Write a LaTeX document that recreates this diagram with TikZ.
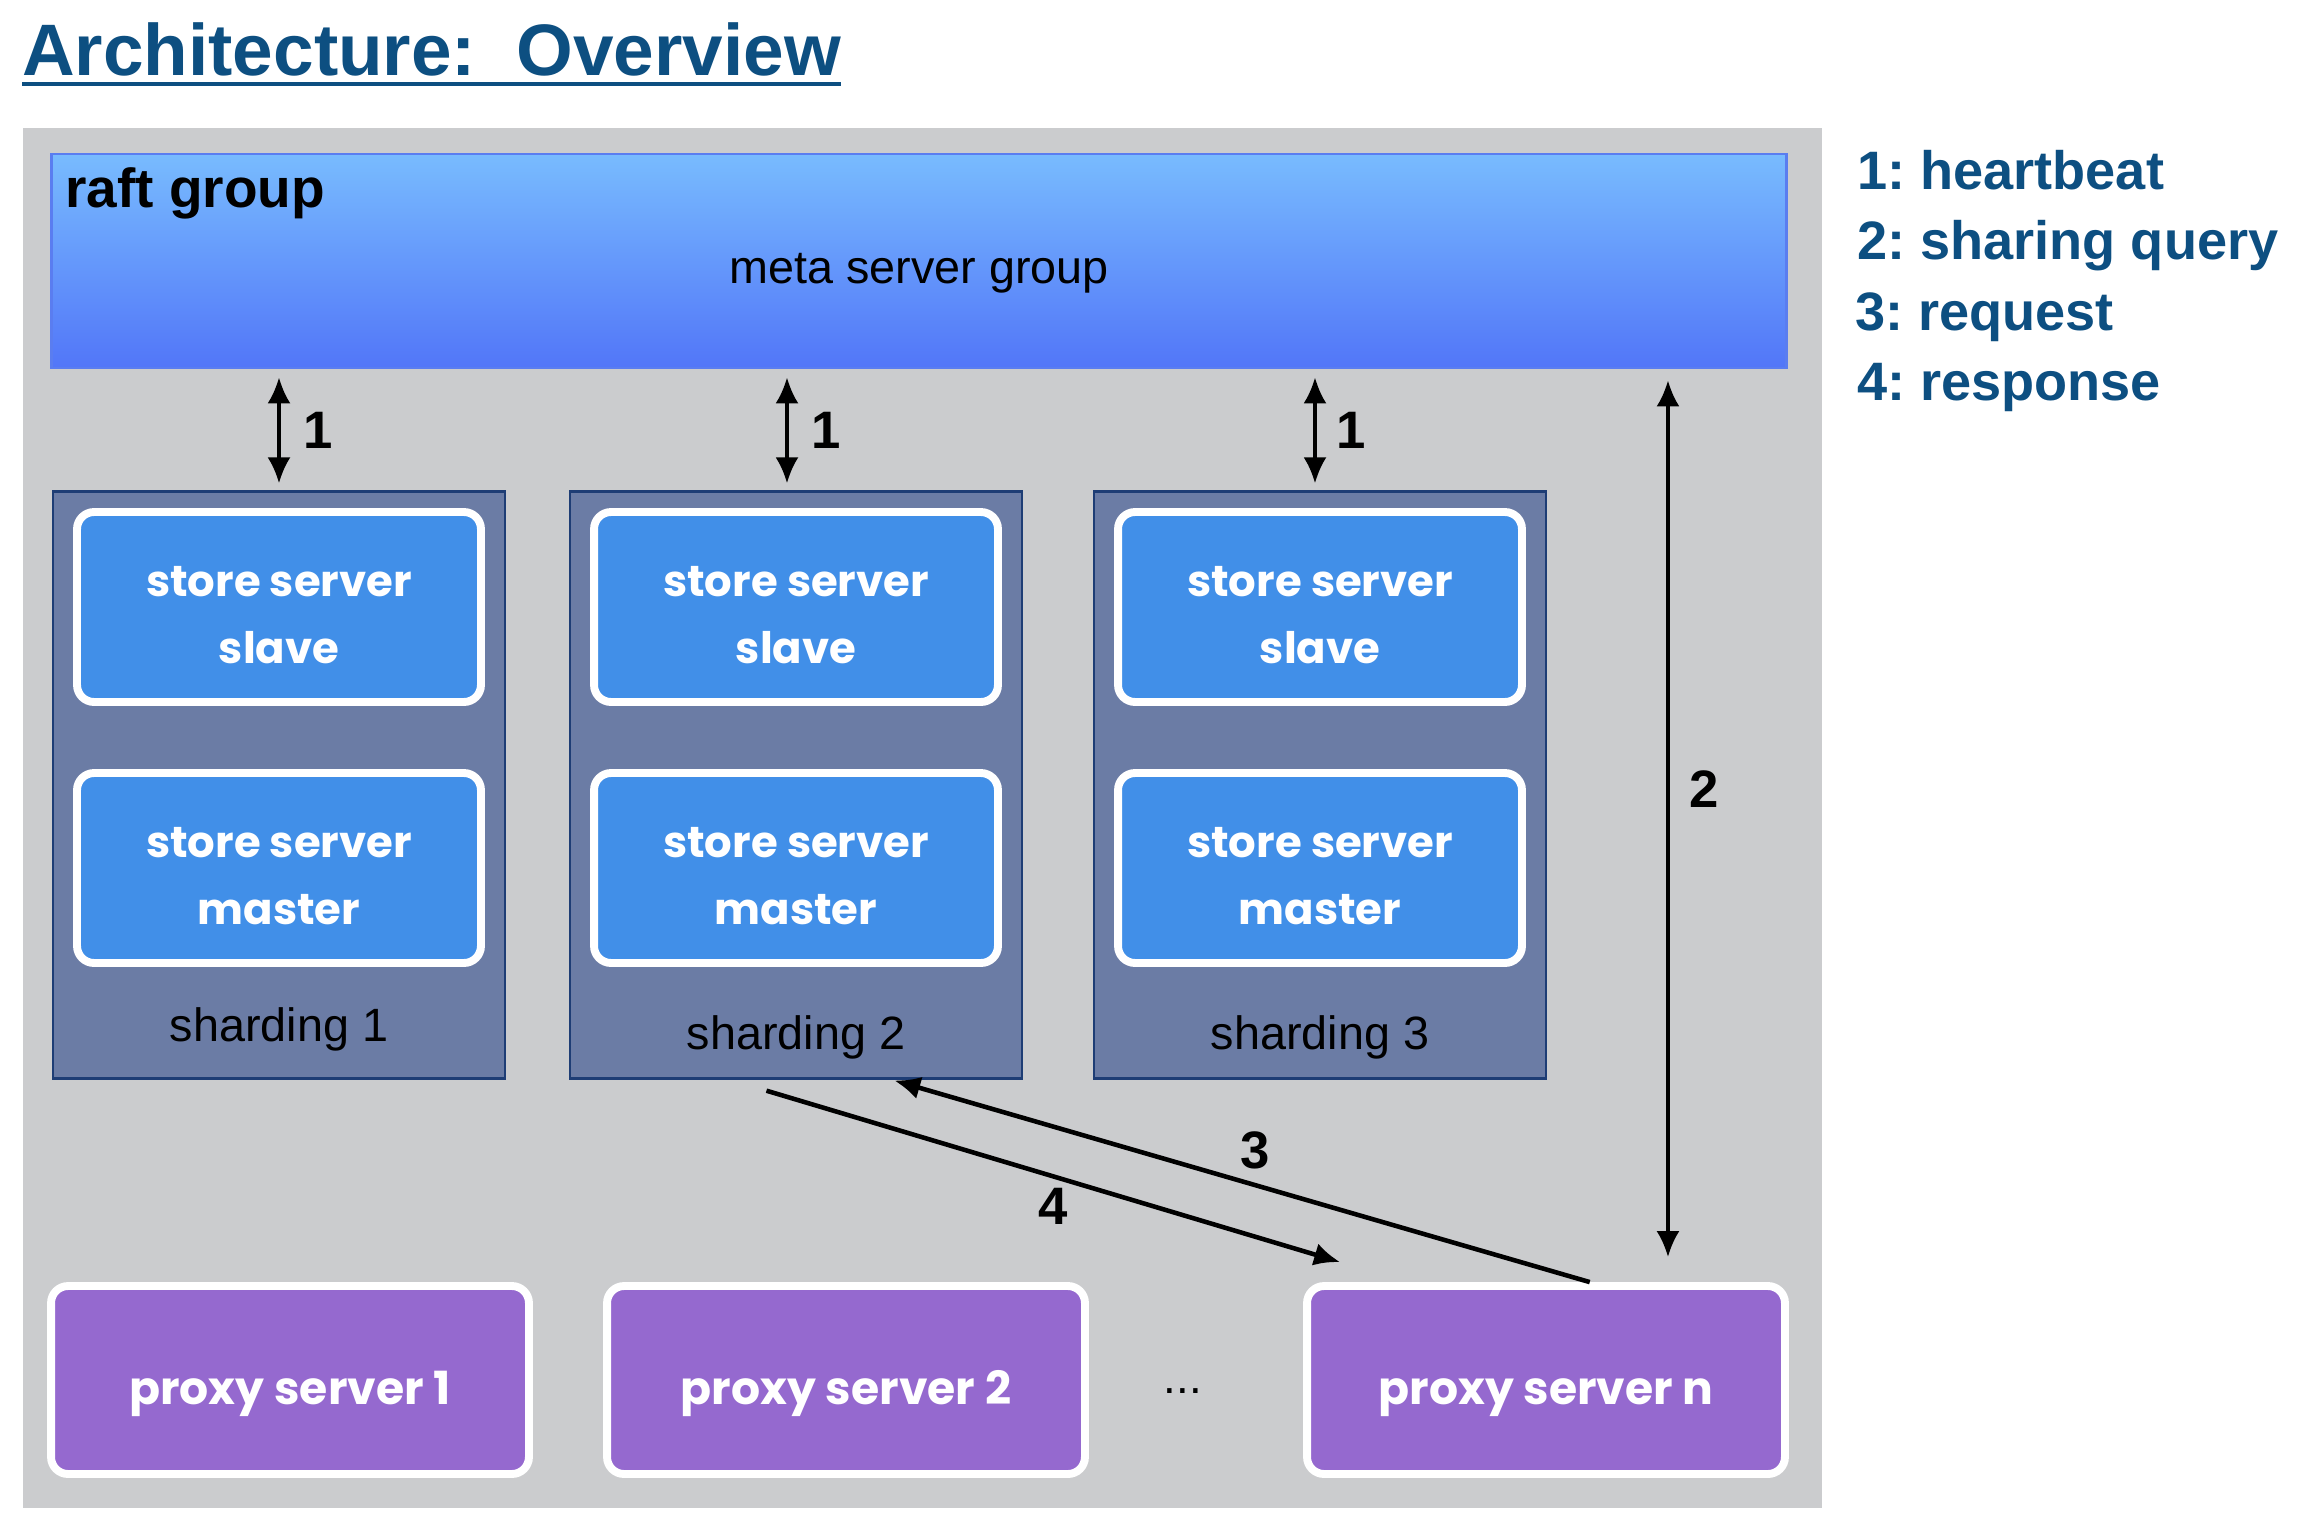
\documentclass[tikz,border=0pt]{standalone}
\usepackage{fontspec}
\setmainfont{Liberation Sans}
\newfontfamily\boxfont{Poppins}
\usetikzlibrary{arrows.meta,calc,positioning}
\definecolor{TitleBlue}{HTML}{0D4F81}
\definecolor{PanelGrey}{HTML}{CBCCCE}
\definecolor{MetaTop}{HTML}{78BBFE}
\definecolor{MetaBottom}{HTML}{5276F8}
\definecolor{MetaLine}{HTML}{5A7DF0}
\definecolor{ShardFill}{HTML}{6B7CA5}
\definecolor{ShardLine}{HTML}{1E3D75}
\definecolor{StoreFill}{HTML}{418FE8}
\definecolor{ProxyFill}{HTML}{9569CF}

\tikzset{
  shard/.style={draw=ShardLine,line width=1.4pt,fill=ShardFill,
    minimum width=9.04cm,minimum height=11.74cm},
  store/.style={draw=white,line width=4.5pt,fill=StoreFill,rounded corners=0.34cm,
    minimum width=8.08cm,minimum height=3.8cm,align=center,text=white,
    text height=64.4pt,text depth=0pt,
    font=\boxfont\bfseries\fontsize{24.7}{38}\selectfont},
  proxy/.style={draw=white,line width=4.5pt,fill=ProxyFill,rounded corners=0.34cm,
    minimum width=9.56cm,minimum height=3.76cm,text=white,
    text height=28.4pt,text depth=0pt,
    font=\boxfont\bfseries\fontsize{26}{30}\selectfont},
  plain/.style={inner sep=0pt,font=\fontsize{26.6}{30}\selectfont},
  num/.style={inner sep=0pt,font=\bfseries\fontsize{30}{32}\selectfont},
  legend/.style={inner sep=0pt,anchor=base west,text=TitleBlue,
    font=\bfseries\fontsize{30.8}{34}\selectfont},
  hb/.style={<->,line width=2pt},
  flow/.style={->,line width=2.6pt}
}

\begin{document}
\frenchspacing
\begin{tikzpicture}[x=0.02cm,y=-0.02cm,>={Latex[length=0.52cm,width=0.46cm]},line cap=butt,line join=miter]

\useasboundingbox (0,0) rectangle (2302,1526);

% Title
\node[inner sep=0pt,anchor=base west,text=TitleBlue,font=\bfseries\fontsize{41.5}{44}\selectfont]
  (title) at (22,75) {Architecture:\ \ Overview};
\draw[TitleBlue,line width=2.2pt] ([yshift=-0.18cm]title.base west) -- ([yshift=-0.18cm]title.base east);

% Grey panel
\fill[PanelGrey] (23,128) rectangle (1822,1508);

% ---- META SERVER GROUP ----
\node[draw=MetaLine,line width=1.6pt,top color=MetaTop,bottom color=MetaBottom,
  minimum width=34.72cm,minimum height=4.28cm] (meta) at (919,261) {};
\node[plain,anchor=base] (metalbl) at (919,283) {meta server group};
\node[inner sep=0pt,anchor=base west,font=\bfseries\fontsize{31.3}{34}\selectfont]
  (raft) at (65,207) {raft group};

% ---- SHARDINGS ----
\node[shard] (sh1) at (279,785) {};
\node[shard] (sh2) at (796,785) {};
\node[shard] (sh3) at (1320,785) {};

\node[store] (slave1) at (279,607) {store server\\slave};
\node[store] (master1) at (279,868) {store server\\master};
\node[store] (slave2) at (796,607) {store server\\slave};
\node[store] (master2) at (796,868) {store server\\master};
\node[store] (slave3) at (1320,607) {store server\\slave};
\node[store] (master3) at (1320,868) {store server\\master};

\node[plain,anchor=base] (shlbl1) at (279,1041) {sharding 1};
\node[plain,anchor=base] (shlbl2) at (796,1049) {sharding 2};
\node[plain,anchor=base] (shlbl3) at (1320,1049) {sharding 3};

% ---- PROXIES ----
\node[proxy] (proxy1) at (290,1380) {proxy server 1};
\node[proxy] (proxy2) at (846,1380) {proxy server 2};
\node[proxy] (proxyn) at (1546,1380) {proxy server n};
\node[inner sep=0pt,anchor=base,font=\fontsize{26}{28}\selectfont] (dots) at (1183,1393) {...};

% ---- CONNECTORS ----
% 1: heartbeat
\draw[hb,shorten <=0.16cm,shorten >=0.14cm] (sh1.north |- meta.south) -- (sh1.north)
  node[num,midway,right=0.45cm] (hb1) {1};
\draw[hb,shorten <=0.16cm,shorten >=0.14cm] ([xshift=-0.18cm]sh2.north |- meta.south) -- ([xshift=-0.18cm]sh2.north)
  node[num,midway,right=0.45cm] (hb2) {1};
\draw[hb,shorten <=0.16cm,shorten >=0.14cm] ([xshift=-0.1cm]sh3.north |- meta.south) -- ([xshift=-0.1cm]sh3.north)
  node[num,midway,right=0.4cm] (hb3) {1};

% 2: sharing query
\draw[hb,shorten <=0.22cm,shorten >=0.5cm] ([xshift=2.44cm]proxyn.north |- meta.south) -- ([xshift=2.44cm]proxyn.north)
  node[num,pos=0.46,right=0.4cm] (query) {2};

% 3: request, 4: response
\coordinate (reqS) at ($(proxyn.north west)!0.59!(proxyn.north east)$);
\coordinate (reqE) at ($(sh2.south west)!0.71!(sh2.south east)$);
\coordinate (resS) at ([yshift=-0.22cm]$(sh2.south west)!0.435!(sh2.south east)$);
\coordinate (resE) at ($(proxyn.north west)+(37,-20)$);
\draw[flow,shorten >=0.06cm] (reqS) -- (reqE)
  node[num,midway,above=0.2cm,xshift=0.3cm] (req) {3};
\draw[flow] (resS) -- (resE)
  node[num,midway,below=0.2cm] (res) {4};

% ---- LEGEND ----
\node[legend] (leg1) at (1857,189) {1: heartbeat};
\node[legend] (leg2) at (1857,259) {2: sharing query};
\node[legend] (leg3) at (1855,330) {3: request};
\node[legend] (leg4) at (1857,400) {4: response};

\end{tikzpicture}
\end{document}
